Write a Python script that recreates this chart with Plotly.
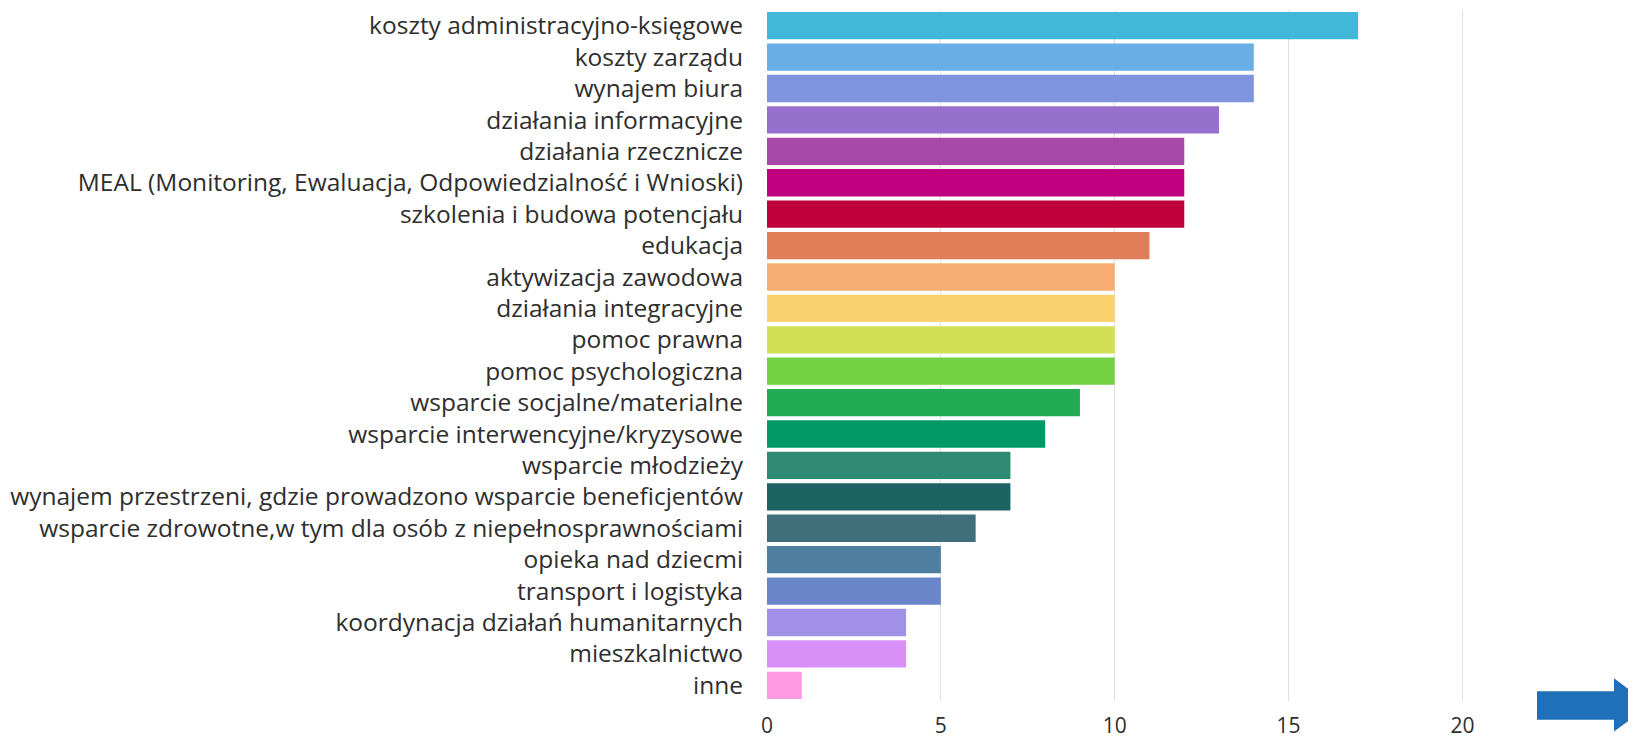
import plotly.graph_objects as go

# categories, top to bottom as in the chart
categories = [
    "koszty administracyjno-księgowe",
    "koszty zarządu",
    "wynajem biura",
    "działania informacyjne",
    "działania rzecznicze",
    "MEAL (Monitoring, Ewaluacja, Odpowiedzialność i Wnioski)",
    "szkolenia i budowa potencjału",
    "edukacja",
    "aktywizacja zawodowa",
    "działania integracyjne",
    "pomoc prawna",
    "pomoc psychologiczna",
    "wsparcie socjalne/materialne",
    "wsparcie interwencyjne/kryzysowe",
    "wsparcie młodzieży",
    "wynajem przestrzeni, gdzie prowadzono wsparcie beneficjentów",
    "wsparcie zdrowotne,w tym dla osób z niepełnosprawnościami",
    "opieka nad dziecmi",
    "transport i logistyka",
    "koordynacja działań humanitarnych",
    "mieszkalnictwo",
    "inne",
]
values = [17, 14, 14, 13, 12, 12, 12, 11, 10, 10, 10, 10, 9, 8, 7, 7, 6, 5, 5, 4, 4, 1]
colors = [
    "#42B8D8", "#6AAEE6", "#8095E0", "#9670CC", "#A848A8", "#C0007F",
    "#C0003C", "#E07E5A", "#F8AE72", "#FBD36E", "#D2E055", "#73D040",
    "#22AA55", "#009966", "#2E8A72", "#1C6464", "#3F6F7A", "#4E7EA0",
    "#6A86C8", "#A090E8", "#D890F8", "#FF99E0",
]
x_ticks = [0, 5, 10, 15, 20]

# page body has an 8px margin, so the figure is a bit smaller than the window
OFF = 8
W, H = 1636 - OFF, 739 - OFF
L, R, T, B = 759, 104, 0, 31

fig = go.Figure(
    go.Bar(
        x=values,
        y=categories,
        orientation="h",
        marker=dict(color=colors, line=dict(width=0)),
        hoverinfo="x+y",
    )
)


# screen pixel -> paper helper for the decorative arrow
def px(xp, yp):
    xp, yp = xp - OFF, yp - OFF
    return (xp - L) / (W - L - R), (H - B - yp) / (H - T - B)


pts = [(1537, 698), (1614, 698), (1614, 685), (1650, 712), (1614, 739), (1614, 727), (1537, 727)]
path = "M " + " L ".join("%f,%f" % px(a, b) for a, b in pts) + " Z"
fig.add_shape(type="path", path=path, xref="paper", yref="paper",
              fillcolor="#1F70B8", line=dict(width=0), layer="above")

fig.update_layout(
    width=W,
    height=H,
    margin=dict(l=L, r=R, t=T, b=B),
    plot_bgcolor="white",
    paper_bgcolor="white",
    bargap=0.13,
    showlegend=False,
    font=dict(family="Open Sans", size=24.5, color="#2e2e2e"),
)
fig.update_xaxes(
    range=[0, 22],
    tickvals=x_ticks,
    showgrid=True,
    gridcolor="#E2E2E2",
    gridwidth=1,
    zeroline=False,
    showline=False,
    ticks="outside",
    ticklen=6,
    tickcolor="rgba(0,0,0,0)",
    tickfont=dict(size=21, color="#2e2e2e"),
)
fig.update_yaxes(
    categoryorder="array",
    categoryarray=categories[::-1],
    autorange=True,
    showgrid=False,
    ticks="outside",
    ticklen=18,
    tickcolor="rgba(0,0,0,0)",
    showline=False,
)

fig.write_html("out.html")
